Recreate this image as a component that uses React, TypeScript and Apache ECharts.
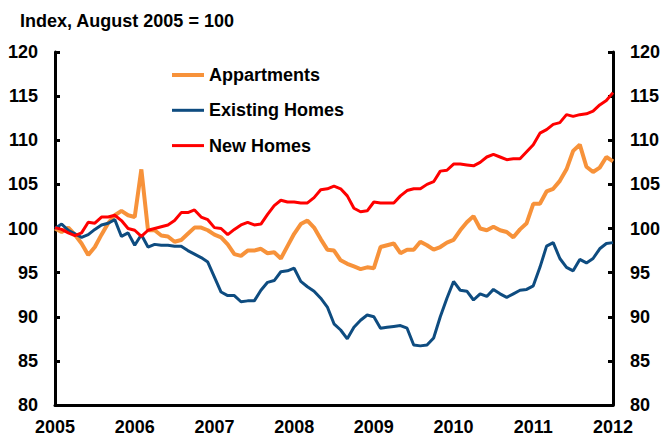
import React, { useEffect, useRef } from "react";
import * as echarts from "echarts";

const months: string[] = [];
for (let y = 2005; y <= 2012; y++) {
  for (let m = 1; m <= 12; m++) {
    if (y === 2012 && m > 1) break;
    months.push(`${y}-${String(m).padStart(2, "0")}`);
  }
}

const apartments = [
  100.0, 99.6, 100.1, 99.3, 98.3, 97.0, 97.9, 99.3, 100.6, 101.5,
  102.0, 101.5, 101.3, 106.7, 99.8, 99.8, 99.2, 99.1, 98.5, 98.7,
  99.4, 100.1, 100.1, 99.8, 99.3, 99.0, 98.2, 97.1, 96.9, 97.5,
  97.5, 97.7, 97.2, 97.3, 96.6, 98.0, 99.4, 100.5, 100.9, 100.1,
  98.8, 97.6, 97.5, 96.4, 96.0, 95.7, 95.4, 95.6, 95.5, 97.9,
  98.1, 98.3, 97.2, 97.6, 97.6, 98.5, 98.1, 97.6, 97.9, 98.4,
  98.7, 99.8, 100.7, 101.4, 100.0, 99.8, 100.2, 99.8, 99.6, 99.0,
  99.9, 100.6, 102.8, 102.8, 104.2, 104.5, 105.4, 106.7, 108.8, 109.5,
  107.0, 106.4, 106.9, 108.1, 107.6,
];

const existingHomes = [
  100.0, 100.5, 99.8, 99.4, 99.0, 99.3, 99.9, 100.4, 100.6, 101.0,
  99.1, 99.5, 98.1, 99.3, 97.9, 98.2, 98.1, 98.1, 98.0, 98.0,
  97.5, 97.1, 96.7, 96.2, 94.5, 92.8, 92.4, 92.4, 91.7, 91.8,
  91.8, 93.0, 93.9, 94.1, 95.1, 95.2, 95.5, 94.0, 93.4, 92.9,
  92.1, 91.1, 89.2, 88.5, 87.5, 88.8, 89.6, 90.2, 90.0, 88.7,
  88.8, 88.9, 89.0, 88.7, 86.8, 86.7, 86.8, 87.6, 90.0, 92.1,
  94.0, 93.0, 92.9, 91.9, 92.6, 92.3, 93.1, 92.6, 92.2, 92.6,
  93.0, 93.1, 93.5, 95.6, 98.0, 98.4, 96.6, 95.6, 95.2, 96.5,
  96.1, 96.6, 97.7, 98.3, 98.4,
];

const newHomes = [
  100.1, 99.9, 99.5, 99.2, 99.5, 100.7, 100.6, 101.3, 101.3, 101.5,
  100.9, 100.0, 99.8, 99.1, 99.8, 100.0, 100.2, 100.4, 100.9, 101.8,
  101.8, 102.1, 101.3, 101.0, 100.1, 100.0, 99.3, 99.9, 100.4, 100.7,
  100.4, 100.5, 101.6, 102.6, 103.2, 103.0, 103.0, 102.9, 102.9, 103.5,
  104.4, 104.5, 104.8, 104.5, 103.7, 102.3, 101.9, 102.0, 103.0, 102.9,
  102.9, 102.9, 103.7, 104.3, 104.5, 104.5, 105.0, 105.3, 106.5, 106.6,
  107.3, 107.3, 107.2, 107.1, 107.5, 108.1, 108.4, 108.1, 107.8, 107.9,
  107.9, 108.7, 109.5, 110.8, 111.2, 111.8, 112.0, 112.9, 112.7, 112.9,
  113.0, 113.3, 114.0, 114.5, 115.4,
];

const seriesNames = ["Appartments", "Existing Homes", "New Homes"];
const titleText = "Index, August 2005 = 100";

const FONT = "'Liberation Sans', Arial, sans-serif";
const COLORS = ["#F7923A", "#0E4C80", "#FF0000"];
const WIDTHS = [4, 3, 3];

export default function App() {
  const ref = useRef<HTMLDivElement>(null);
  useEffect(() => {
    if (!ref.current) return;
    const chart = echarts.init(ref.current, undefined, { renderer: "svg" });
    const axisLabel = {
      color: "#000",
      fontFamily: FONT,
      fontWeight: "bold" as const,
      fontSize: 18,
    };
    const yCommon = {
      type: "value" as const,
      min: 80,
      max: 120,
      interval: 5,
      splitLine: { show: false },
      axisLine: { show: true, lineStyle: { color: "#000", width: 3 } },
      axisTick: { show: true, inside: true, length: 5, lineStyle: { color: "#000", width: 3 } },
      axisLabel: { ...axisLabel, margin: 17 },
    };
    chart.setOption({
      animation: false,
      backgroundColor: "#fff",
      title: {
        text: titleText,
        left: 15,
        top: 7,
        textStyle: { fontFamily: FONT, fontWeight: "bold", fontSize: 18, color: "#000" },
      },
      legend: {
        orient: "vertical",
        left: 165,
        top: 61,
        itemWidth: 32,
        itemHeight: 18,
        itemGap: 17.3,
        data: seriesNames.map((n, i) => ({
          name: n,
          lineStyle: { width: WIDTHS[i], color: COLORS[i] },
        })),
        itemStyle: { opacity: 0 },
        textStyle: { fontFamily: FONT, fontWeight: "bold", fontSize: 18, color: "#000" },
      },
      grid: { left: 55, right: 51, top: 52, bottom: 29, containLabel: false },
      xAxis: {
        type: "category",
        data: months,
        boundaryGap: false,
        axisLine: { show: true, lineStyle: { color: "#000", width: 3 } },
        axisTick: { show: false },
        axisLabel: {
          ...axisLabel,
          interval: 11,
          margin: 13,
          formatter: (v: string) => v.slice(0, 4),
        },
      },
      yAxis: [
        { ...yCommon, position: "left" },
        { ...yCommon, position: "right" },
      ],
      series: [
        {
          name: seriesNames[0],
          type: "line",
          data: apartments,
          symbol: "none",
          lineStyle: { color: COLORS[0], width: WIDTHS[0] },
          itemStyle: { color: COLORS[0] },
        },
        {
          name: seriesNames[1],
          type: "line",
          data: existingHomes,
          symbol: "none",
          lineStyle: { color: COLORS[1], width: WIDTHS[1] },
          itemStyle: { color: COLORS[1] },
        },
        {
          name: seriesNames[2],
          type: "line",
          data: newHomes,
          symbol: "none",
          lineStyle: { color: COLORS[2], width: WIDTHS[2] },
          itemStyle: { color: COLORS[2] },
        },
      ],
    });
    return () => chart.dispose();
  }, []);
  return <div ref={ref} style={{ width: 664, height: 436, position: "absolute", left: 0, top: 0 }} />;
}
